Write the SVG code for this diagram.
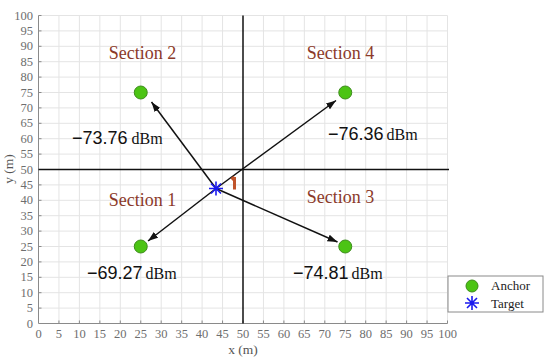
<svg xmlns="http://www.w3.org/2000/svg" width="550" height="364" viewBox="0 0 550 364">
<style>
.grid{stroke:#e4e4e4;stroke-width:1;fill:none}
.axis{stroke:#8a8a8a;stroke-width:1;fill:none}
.tick{font-family:"Liberation Serif","Times New Roman",serif;font-size:12.5px;fill:#6e6e6e}
.sec{font-family:"Liberation Serif","Times New Roman",serif;font-size:18px;fill:#8b3a2a}
.num{font-family:"Liberation Sans",Arial,sans-serif;font-size:18px;fill:#111}
.unit{font-family:"Liberation Serif","Times New Roman",serif;font-size:16px;fill:#111}
.leg{font-family:"Liberation Serif","Times New Roman",serif;font-size:13px;fill:#222}
.alab{font-family:"Liberation Serif","Times New Roman",serif;font-size:13.5px;fill:#555}
.anchor{fill:#4cc414;stroke:#3c8c1a;stroke-width:1}
.star{stroke:#1a1aee;stroke-width:1.6;fill:none}
.conn{stroke:#111;stroke-width:1.5;fill:none;marker-end:url(#ah)}
.quad{stroke:#111;stroke-width:1.5;fill:none}
</style>
<defs>
<marker id="ah" markerUnits="userSpaceOnUse" markerWidth="11" markerHeight="8" refX="10" refY="3.5" orient="auto">
<path d="M0,0 L10,3.5 L0,7 z" fill="#111"/>
</marker>
<g id="starShape"><path d="M-7,0 H7 M0,-7 V7 M-5,-5 L5,5 M-5,5 L5,-5"/></g>
</defs>
<rect width="550" height="364" fill="#fff"/>
<g id="grid">
<path class="grid" d="M58.95,15.5V323.5M79.4,15.5V323.5M99.85,15.5V323.5M120.3,15.5V323.5M140.75,15.5V323.5M161.2,15.5V323.5M181.65,15.5V323.5M202.1,15.5V323.5M222.55,15.5V323.5M263.45,15.5V323.5M283.9,15.5V323.5M304.35,15.5V323.5M324.8,15.5V323.5M345.25,15.5V323.5M365.7,15.5V323.5M386.15,15.5V323.5M406.6,15.5V323.5M427.05,15.5V323.5M447.5,15.5V323.5M38.5,308.1H447.5M38.5,292.7H447.5M38.5,277.3H447.5M38.5,261.9H447.5M38.5,246.5H447.5M38.5,231.1H447.5M38.5,215.7H447.5M38.5,200.3H447.5M38.5,184.9H447.5M38.5,154.1H447.5M38.5,138.7H447.5M38.5,123.3H447.5M38.5,107.9H447.5M38.5,92.5H447.5M38.5,77.1H447.5M38.5,61.7H447.5M38.5,46.3H447.5M38.5,30.9H447.5M38.5,15.5H447.5"/>
</g>
<g id="axes">
<path class="axis" d="M38.5,15.5V323.5H447.5"/>
<path class="axis" d="M58.95,323.5v-3M79.4,323.5v-3M99.85,323.5v-3M120.3,323.5v-3M140.75,323.5v-3M161.2,323.5v-3M181.65,323.5v-3M202.1,323.5v-3M222.55,323.5v-3M243,323.5v-3M263.45,323.5v-3M283.9,323.5v-3M304.35,323.5v-3M324.8,323.5v-3M345.25,323.5v-3M365.7,323.5v-3M386.15,323.5v-3M406.6,323.5v-3M427.05,323.5v-3M447.5,323.5v-3M38.5,308.1h3M38.5,292.7h3M38.5,277.3h3M38.5,261.9h3M38.5,246.5h3M38.5,231.1h3M38.5,215.7h3M38.5,200.3h3M38.5,184.9h3M38.5,169.5h3M38.5,154.1h3M38.5,138.7h3M38.5,123.3h3M38.5,107.9h3M38.5,92.5h3M38.5,77.1h3M38.5,61.7h3M38.5,46.3h3M38.5,30.9h3M38.5,15.5h3"/>
<g class="tick" text-anchor="end">
<text x="33" y="327.5">0</text><text x="33" y="312.1">5</text><text x="33" y="296.7">10</text><text x="33" y="281.3">15</text><text x="33" y="265.9">20</text><text x="33" y="250.5">25</text><text x="33" y="235.1">30</text><text x="33" y="219.7">35</text><text x="33" y="204.3">40</text><text x="33" y="188.9">45</text><text x="33" y="173.5">50</text><text x="33" y="158.1">55</text><text x="33" y="142.7">60</text><text x="33" y="127.3">65</text><text x="33" y="111.9">70</text><text x="33" y="96.5">75</text><text x="33" y="81.1">80</text><text x="33" y="65.7">85</text><text x="33" y="50.3">90</text><text x="33" y="34.9">95</text><text x="33" y="19.5">100</text>
</g>
<g class="tick" text-anchor="middle">
<text x="38.5" y="338">0</text><text x="58.95" y="338">5</text><text x="79.4" y="338">10</text><text x="99.85" y="338">15</text><text x="120.3" y="338">20</text><text x="140.75" y="338">25</text><text x="161.2" y="338">30</text><text x="181.65" y="338">35</text><text x="202.1" y="338">40</text><text x="222.55" y="338">45</text><text x="243" y="338">50</text><text x="263.45" y="338">55</text><text x="283.9" y="338">60</text><text x="304.35" y="338">65</text><text x="324.8" y="338">70</text><text x="345.25" y="338">75</text><text x="365.7" y="338">80</text><text x="386.15" y="338">85</text><text x="406.6" y="338">90</text><text x="427.05" y="338">95</text><text x="447.5" y="338">100</text>
</g>
<text class="alab" x="243" y="354" text-anchor="middle">x (m)</text>
<text class="alab" transform="translate(13,169) rotate(-90)" text-anchor="middle">y (m)</text>
</g>
<g id="quadrant-lines">
<path class="quad" d="M243,15.5V323.5"/>
<path class="quad" d="M38.5,169.5H449"/>
</g>
<g id="connectors">
<path class="conn" d="M216,188.5L151.5,102"/>
<path class="conn" d="M216,188.5L336,100.5"/>
<path class="conn" d="M216,188.5L148,241"/>
<path class="conn" d="M216,188.5L337.5,242"/>
</g>
<g id="angle-mark">
<path d="M234.5,177V189.5M231.5,179.5L234.5,177" stroke="#c0532a" stroke-width="3" fill="none"/>
</g>
<g id="anchor-s2"><circle class="anchor" cx="140.75" cy="92.5" r="6.5"/></g>
<g id="anchor-s4"><circle class="anchor" cx="345.25" cy="92.5" r="6.5"/></g>
<g id="anchor-s1"><circle class="anchor" cx="140.75" cy="246.5" r="6.5"/></g>
<g id="anchor-s3"><circle class="anchor" cx="345.25" cy="246.5" r="6.5"/></g>
<g id="target"><use href="#starShape" class="star" transform="translate(216,188.5)"/></g>
<g id="section-labels">
<text class="sec" x="142.5" y="59" text-anchor="middle">Section 2</text>
<text class="sec" x="340.5" y="59" text-anchor="middle">Section 4</text>
<text class="sec" x="142.5" y="206" text-anchor="middle">Section 1</text>
<text class="sec" x="340.5" y="203" text-anchor="middle">Section 3</text>
</g>
<g id="rssi-labels">
<text x="72" y="144"><tspan class="num">−73.76</tspan><tspan class="unit" dx="4">dBm</tspan></text>
<text x="328" y="140"><tspan class="num">−76.36</tspan><tspan class="unit" dx="3">dBm</tspan></text>
<text x="87" y="279"><tspan class="num">−69.27</tspan><tspan class="unit" dx="3">dBm</tspan></text>
<text x="293" y="279"><tspan class="num">−74.81</tspan><tspan class="unit" dx="3">dBm</tspan></text>
</g>
<g id="legend">
<rect x="448" y="276" width="95" height="36" fill="#fff" stroke="#8a8a8a" stroke-width="1"/>
<circle class="anchor" cx="472" cy="286" r="6"/>
<use href="#starShape" class="star" transform="translate(472,303)"/>
<text class="leg" x="491" y="290">Anchor</text>
<text class="leg" x="491" y="308">Target</text>
</g>
</svg>
